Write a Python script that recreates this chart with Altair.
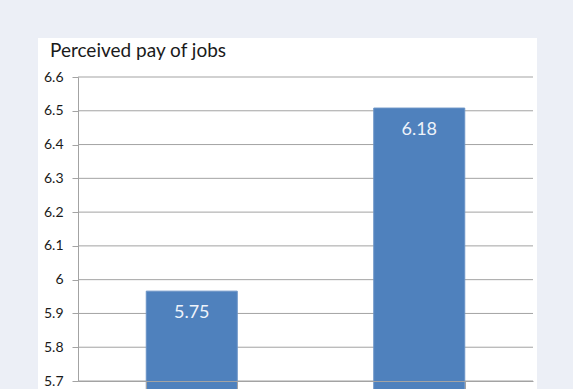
import altair as alt
import pandas as pd

categories = ["Job A", "Job B"]
bar_values = [5.966, 6.508]
bar_labels = ["5.75", "6.18"]
y_ticks = [5.7, 5.8, 5.9, 6.0, 6.1, 6.2, 6.3, 6.4, 6.5, 6.6]

df = pd.DataFrame({"category": categories, "value": bar_values, "label": bar_labels})
grid_df = pd.DataFrame({"tick": y_ticks})

FONT = "Lato"
GRID = "#a3a3a3"

y_scale = alt.Scale(domain=[5.7, 6.6], zero=False, nice=False)
y_axis = alt.Axis(
    title=None, values=y_ticks, format=".1~f", grid=False, domainColor=GRID,
    tickColor=GRID, tickSize=6, labelPadding=9, labelFont=FONT, labelFontSize=14,
    labelColor="#1a1a1a", zindex=1,
)
x_scale = alt.Scale(paddingInner=0.6, paddingOuter=0.3)
x_axis = alt.Axis(
    title=None, labels=False, tickBand="extent", tickSize=10,
    domainColor=GRID, tickColor=GRID, grid=False, zindex=1,
)

panel = alt.Chart(pd.DataFrame({"p": [0]})).mark_rect(color="white").encode(
    x=alt.value(-40), x2=alt.value(459), y=alt.value(-39), y2=alt.value(330)
)

grid = alt.Chart(grid_df).mark_rule(color=GRID, strokeWidth=1).encode(
    y=alt.Y("tick:Q", scale=y_scale, axis=y_axis)
)

bars = alt.Chart(df).mark_bar(color="#4f81bd", stroke="#6a93c6", strokeWidth=1).encode(
    x=alt.X("category:N", sort=categories, scale=x_scale, axis=x_axis),
    y=alt.Y("value:Q", scale=y_scale, axis=y_axis),
)
texts = alt.Chart(df).mark_text(
    dy=22, baseline="middle", align="center", color="#eef3fa", font=FONT, fontSize=18
).encode(
    x=alt.X("category:N", sort=categories, scale=x_scale, axis=x_axis),
    y=alt.Y("value:Q", scale=y_scale, axis=y_axis),
    text="label:N",
)

chart = alt.layer(panel, grid, bars, texts).properties(
    width=455,
    height=304,
    background="#eceff6",
    padding={"left": 78, "top": 77, "right": 40, "bottom": 8},
    autosize=alt.AutoSizeParams(type="none"),
    title=alt.TitleParams(
        "Perceived pay of jobs", anchor="start", frame="group", dx=-28, font=FONT,
        fontSize=19, fontWeight="normal", color="#1a1a1a", offset=-23,
    ),
).configure_view(stroke=None)

chart.save("out.html", embed_options={"renderer": "svg", "actions": False})
